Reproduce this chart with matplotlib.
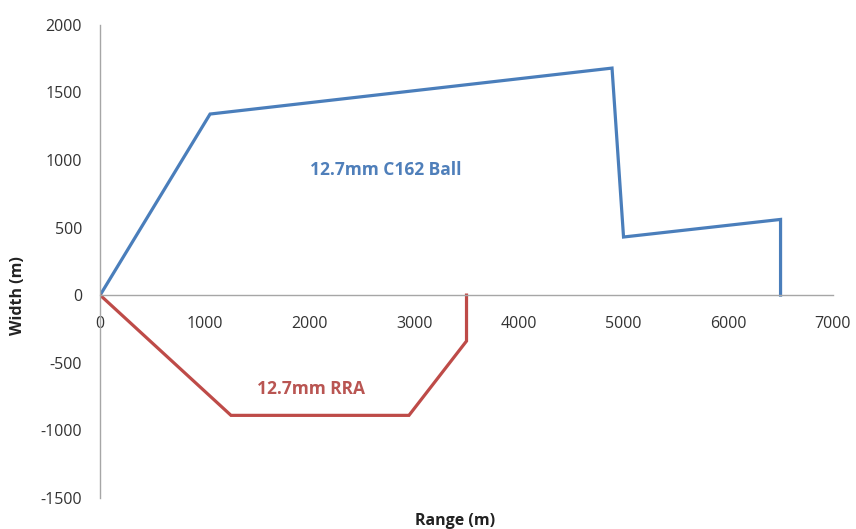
import matplotlib
matplotlib.use('Agg')
import matplotlib.pyplot as plt

# 12.7mm C162 Ball danger area outline
ball_range = [0, 1050, 4890, 5000, 6500, 6500]
ball_width = [0, 1340, 1680, 430, 560, 0]

# 12.7mm RRA danger area outline
rra_range = [0, 1250, 2950, 3500, 3500]
rra_width = [0, -890, -890, -340, 0]

x_ticks = [0, 1000, 2000, 3000, 4000, 5000, 6000, 7000]
y_ticks = [-1500, -1000, -500, 0, 500, 1000, 1500, 2000]

plt.rcParams['font.family'] = ['Open Sans', 'DejaVu Sans']
plt.rcParams['axes.unicode_minus'] = False

fig = plt.figure(figsize=(8.56, 5.29), dpi=100)
ax = fig.add_axes([0.117, 0.059, 0.856, 0.894])

ax.plot(ball_range, ball_width, color='#4A7EBB', linewidth=2.3, solid_joinstyle='miter')
ax.plot(rra_range, rra_width, color='#BE4B48', linewidth=2.3, solid_joinstyle='miter')

ax.text(2730, 925, '12.7mm C162 Ball', color='#4F7FBA', fontsize=12.5,
        fontweight='bold', ha='center', va='center')
ax.text(2010, -695, '12.7mm RRA', color='#B95552', fontsize=12.5,
        fontweight='bold', ha='center', va='center')

ax.set_xlim(0, 7000)
ax.set_ylim(-1500, 2000)
ax.set_xticks(x_ticks)
ax.set_yticks(y_ticks)

ax.spines['top'].set_visible(False)
ax.spines['right'].set_visible(False)
ax.spines['bottom'].set_position(('data', 0))
for s in ['left', 'bottom']:
    ax.spines[s].set_color('#A6A6A6')
    ax.spines[s].set_linewidth(1.0)

ax.tick_params(axis='both', length=0, labelsize=11.5, labelcolor='#333333')
ax.tick_params(axis='x', pad=15)
ax.tick_params(axis='y', pad=13)

fig.text(0.021, 0.442, 'Width (m)', rotation=90, fontsize=11.5, fontweight='bold',
         ha='center', va='center', color='#222222')
fig.text(0.532, 0.016, 'Range (m)', fontsize=11.5, fontweight='bold',
         ha='center', va='center', color='#222222')

fig.savefig('out.png', dpi=100)
plt.close(fig)
